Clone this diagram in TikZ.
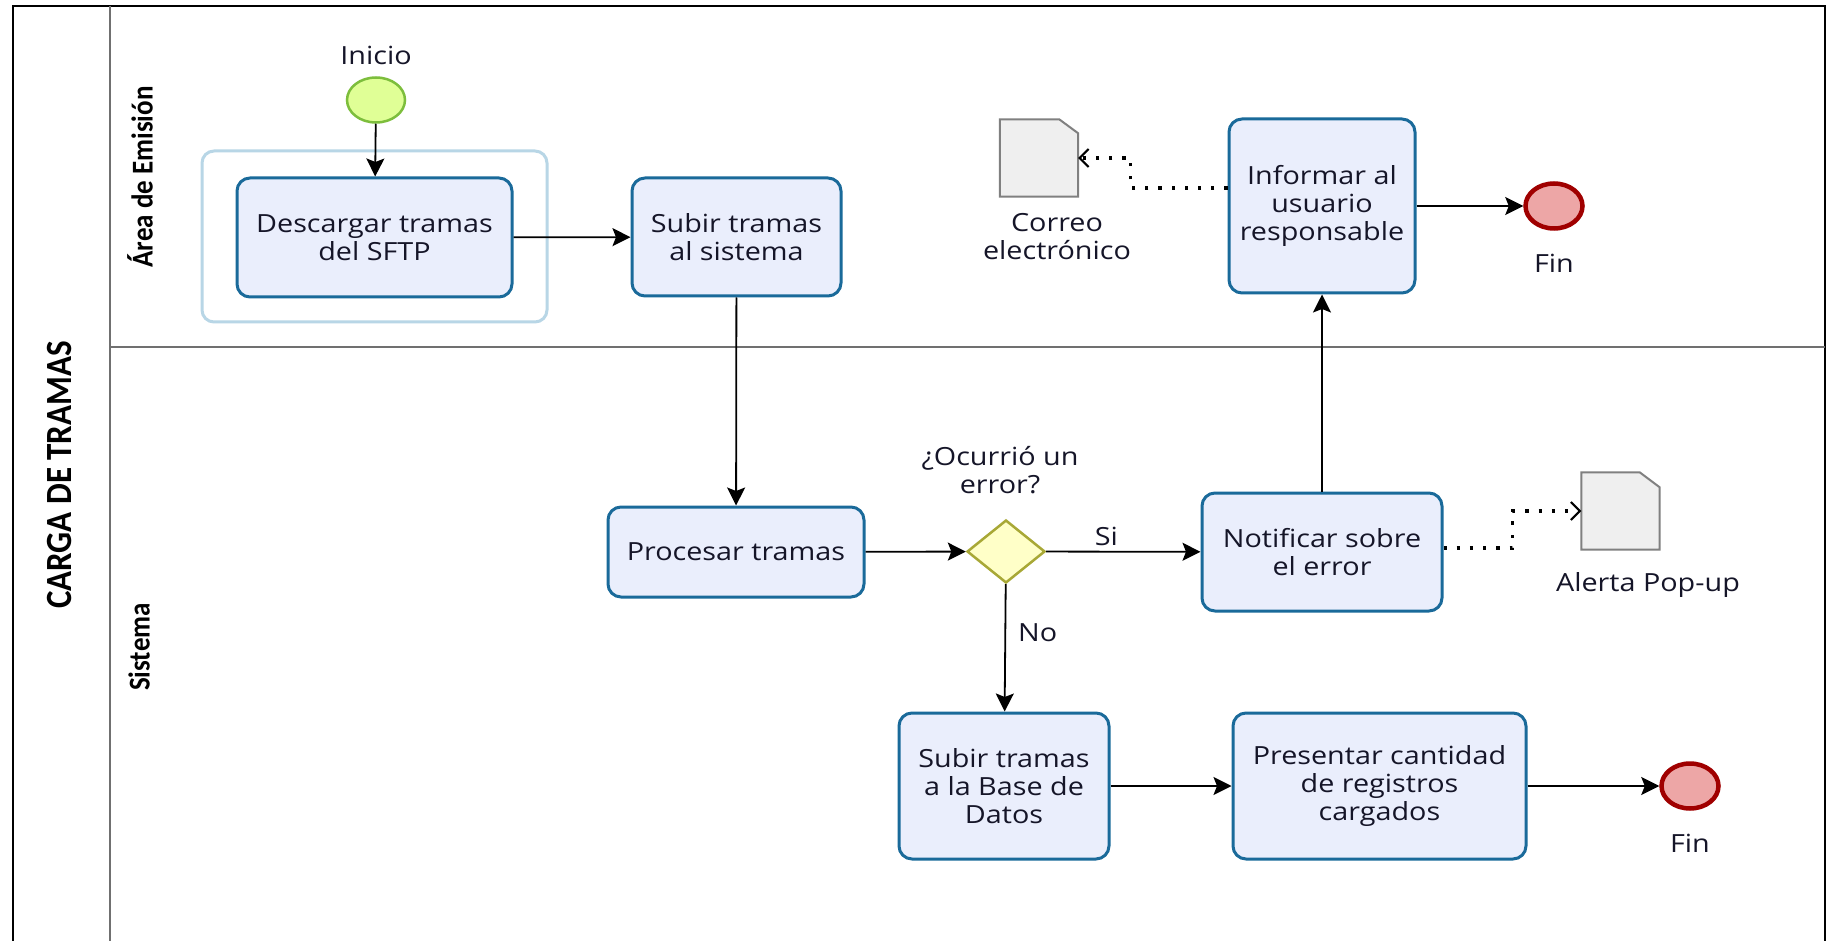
\documentclass[tikz,border=0pt]{standalone}
\usepackage{fontspec}
\setmainfont{Open Sans}[FakeStretch=1.15]
\newfontfamily\lanefont{Carlito}
\usetikzlibrary{shapes.geometric,arrows.meta}

\definecolor{taskfill}{HTML}{EAEEFC}
\definecolor{taskdraw}{HTML}{1A6A9A}
\definecolor{groupdraw}{HTML}{B8D6E6}
\definecolor{startfill}{HTML}{E0FF96}
\definecolor{startdraw}{HTML}{7DBE3C}
\definecolor{endfill}{HTML}{EDA6A6}
\definecolor{enddraw}{HTML}{A00000}
\definecolor{gwfill}{HTML}{FFFFC8}
\definecolor{gwdraw}{HTML}{A8A836}
\definecolor{docfill}{HTML}{EFEFEF}
\definecolor{docdraw}{HTML}{808080}
\definecolor{lanegray}{HTML}{707070}
\definecolor{inktext}{HTML}{151528}

\tikzset{
  bodytext/.style={font=\fontsize{25}{28}\selectfont, text=inktext, align=center},
  task/.style={bodytext, draw=taskdraw, fill=taskfill, line width=3pt,
    rounded corners=13pt, inner sep=0pt},
  group/.style={draw=groupdraw, line width=3pt, rounded corners=12pt, fill=white},
  startev/.style={ellipse, draw=startdraw, fill=startfill, line width=2.5pt,
    minimum width=58pt, minimum height=45pt, inner sep=0pt},
  endev/.style={ellipse, draw=enddraw, fill=endfill, line width=4.5pt,
    minimum width=57pt, minimum height=45pt, inner sep=0pt},
  gateway/.style={diamond, draw=gwdraw, fill=gwfill, line width=2.5pt,
    minimum width=78pt, minimum height=63pt, inner sep=0pt},
  docbox/.style={minimum width=78pt, minimum height=77pt, inner sep=0pt},
  docline/.style={draw=docdraw, fill=docfill, line width=2pt},
  label/.style={bodytext, inner sep=0pt},
  flow/.style={line width=1.8pt, -{Stealth[length=18pt,width=18pt,inset=3.5pt]}},
  assoc/.style={line width=3.2pt, dash pattern=on 3.2pt off 10pt,
    -{Straight Barb[length=9pt,width=18pt,line width=2pt]}},
  lanetitle/.style={rotate=90, font=\lanefont\bfseries\fontsize{27}{27}\selectfont, text=black},
  pooltitle/.style={rotate=90, font=\lanefont\bfseries\fontsize{33}{33}\selectfont, text=black}
}

\begin{document}
\begin{tikzpicture}[x=1pt,y=-1pt]
\useasboundingbox (0,0) rectangle (1832,941);
\fill[white] (0,0) rectangle (1832,941);

% pool and lanes
\draw[black, line width=2.2pt] (13,945) -- (13,6) -- (1825,6) -- (1825,945);
\draw[lanegray, line width=1.8pt] (110,6) -- (110,945);
\draw[lanegray, line width=1.8pt] (110,347) -- (1825,347);

\node[pooltitle] (pool) at (60,475) {\scalebox{1}[1.12]{CARGA DE TRAMAS}};
\node[lanetitle] (laneA) at (140,177) {\scalebox{1}[1.12]{Área de Emisión}};
\node[lanetitle] (laneB) at (139,647) {\scalebox{1}[1.12]{Sistema}};

% sub-process frame around the download task
\draw[group] (202,151) rectangle (547,322);

% events
\node[startev] (start) at (376,100) {};
\node[label] (startlbl) at (376,55) {Inicio};
\node[endev] (endA) at (1554,206) {};
\node[label] (endAlbl) at (1554,263) {Fin};
\node[endev] (endB) at (1690,786) {};
\node[label] (endBlbl) at (1690,843) {Fin};

% tasks
\node[task, minimum width=275pt, minimum height=119pt] (desc) at (374.5,237.5) {Descargar tramas\\del SFTP};
\node[task, minimum width=209pt, minimum height=118pt] (subir) at (736.5,237) {Subir tramas\\al sistema};
\node[task, minimum width=256pt, minimum height=90pt] (proc) at (736,552) {Procesar tramas};
\node[task, minimum width=240pt, minimum height=118pt] (notif) at (1322,552) {Notificar sobre\\el error};
\node[task, minimum width=186pt, minimum height=174pt] (inform) at (1322,206) {Informar al\\usuario\\responsable};
\node[task, minimum width=210pt, minimum height=146pt] (subirbd) at (1004,786) {Subir tramas\\a la Base de\\Datos};
\node[task, minimum width=293pt, minimum height=146pt] (pres) at (1379.5,786) {Presentar cantidad\\de registros\\cargados};

% gateway
\node[gateway] (gw) at (1006,551.5) {};
\node[label] (gwlbl) at (1000,470) {¿Ocurrió un\\error?};

% data objects
\node[docbox] (corr) at (1039,158) {};
\draw[docline] (corr.south west) -- (corr.north west) -- ([xshift=-19pt]corr.north east)
  -- ([yshift=-14pt]corr.north east) -- (corr.south east) -- cycle;
\node[label] (corrlbl) at (1057,237) {Correo\\electrónico};

\node[docbox] (alert) at (1620.5,511) {};
\draw[docline] (alert.south west) -- (alert.north west) -- ([xshift=-20pt]alert.north east)
  -- ([yshift=-15pt]alert.north east) -- (alert.south east) -- cycle;
\node[label] (alertlbl) at (1648,585) {Alerta Pop-up};

% sequence flows
\draw[flow] (start) -- (desc);
\draw[flow] (desc) -- (subir);
\draw[flow] (subir) -- (proc);
\draw[flow] (proc) -- (gw);
\draw[flow] (gw) -- node[label, above=5pt, pos=0.39] (silbl) {Si} (notif);
\draw[flow] (gw) -- node[label, right=12pt, pos=0.38] (nolbl) {No} (subirbd);
\draw[flow] (subirbd) -- (pres);
\draw[flow] (pres) -- (endB);
\draw[flow] (notif) -- (inform);
\draw[flow] (inform) -- (endA);

% associations to data objects
\draw[assoc] ([yshift=18pt]inform.west) -| ++(-97,-15) |- (corr.east);
\draw[assoc] ([yshift=4pt]notif.east) -| ++(69,-18) |- (alert.west);
\end{tikzpicture}
\end{document}
